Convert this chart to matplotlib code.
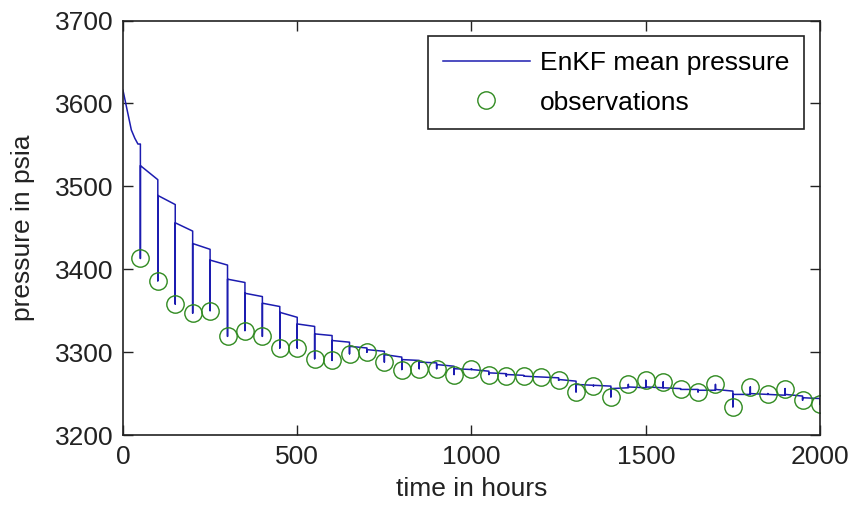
import matplotlib
matplotlib.use("Agg")
import matplotlib.pyplot as plt
import numpy as np

# observation times (hours) and observed pressure (psia)
t_obs = np.arange(50, 2001, 50)
obs = [3413, 3386, 3358, 3347, 3350, 3319, 3326, 3319, 3305, 3305,
       3292, 3290, 3298, 3300, 3288, 3279, 3280, 3280, 3273, 3280,
       3273, 3271, 3271, 3270, 3266, 3252, 3259, 3246, 3261, 3266,
       3264, 3255, 3252, 3261, 3234, 3258, 3250, 3256, 3242, 3237]

# EnKF mean just before (forecast) and just after (analysis) each update
forecast = [3551, 3508, 3478, 3446, 3424, 3405, 3384, 3367, 3355, 3342,
            3331, 3320, 3312, 3305, 3301, 3294, 3290, 3287, 3283, 3279,
            3277, 3274, 3272, 3270, 3269, 3265, 3260, 3259, 3257, 3257,
            3257, 3256, 3255, 3254, 3253, 3249, 3249, 3248, 3247, 3244]
analysis = [3525, 3489, 3456, 3431, 3411, 3388, 3371, 3359, 3348, 3334,
            3322, 3314, 3307, 3303, 3297, 3291, 3288, 3285, 3280, 3279,
            3275, 3273, 3271, 3270, 3267, 3261, 3260, 3256, 3258, 3258,
            3257, 3255, 3254, 3255, 3249, 3250, 3249, 3249, 3245, 3242]

# start of the run before the first update
t_start = [0, 10, 24, 34, 43]
p_start = [3616, 3596, 3568, 3558, 3551]


def main():
    plt.rcParams['font.family'] = ['Liberation Sans', 'DejaVu Sans']
    fig = plt.figure(figsize=(8.48, 5.13), dpi=100)
    ax = fig.add_axes([0.145, 0.152, 0.822, 0.808])

    # build the sawtooth: forecast -> drop to obs -> back to analysis
    tl = list(t_start)
    pl = list(p_start)
    for k in range(len(t_obs)):
        tl += [t_obs[k], t_obs[k], t_obs[k]]
        pl += [forecast[k], obs[k], analysis[k]]

    ax.plot(tl, pl, color='#1c1cb0', lw=1.1, label='EnKF mean pressure')
    ax.plot(t_obs, obs, 'o', mfc='none', mec='#2f8a1f', ms=12.5, mew=1.0,
            label='observations')

    ax.set_xlim(0, 2000)
    ax.set_ylim(3200, 3700)
    ax.set_xticks([0, 500, 1000, 1500, 2000])
    ax.set_yticks(np.arange(3200, 3701, 100))
    ax.tick_params(direction='in', length=7, width=1, labelsize=19,
                   top=True, right=True, colors='#222222', pad=7)
    for s in ax.spines.values():
        s.set_linewidth(1.2)
        s.set_color('#222222')
    ax.set_xlabel('time in hours', fontsize=19, color='#222222', labelpad=6)
    ax.set_ylabel('pressure in psia', fontsize=19, color='#222222', labelpad=14)

    leg = ax.legend(loc='upper right', fontsize=19, fancybox=False,
                    framealpha=1, edgecolor='#222222', borderaxespad=0.6,
                    handlelength=3.3, labelspacing=0.6, borderpad=0.55,
                    handletextpad=0.4)
    leg.get_frame().set_linewidth(1.2)

    fig.savefig('out.png', dpi=100)


if __name__ == "__main__":
    main()
